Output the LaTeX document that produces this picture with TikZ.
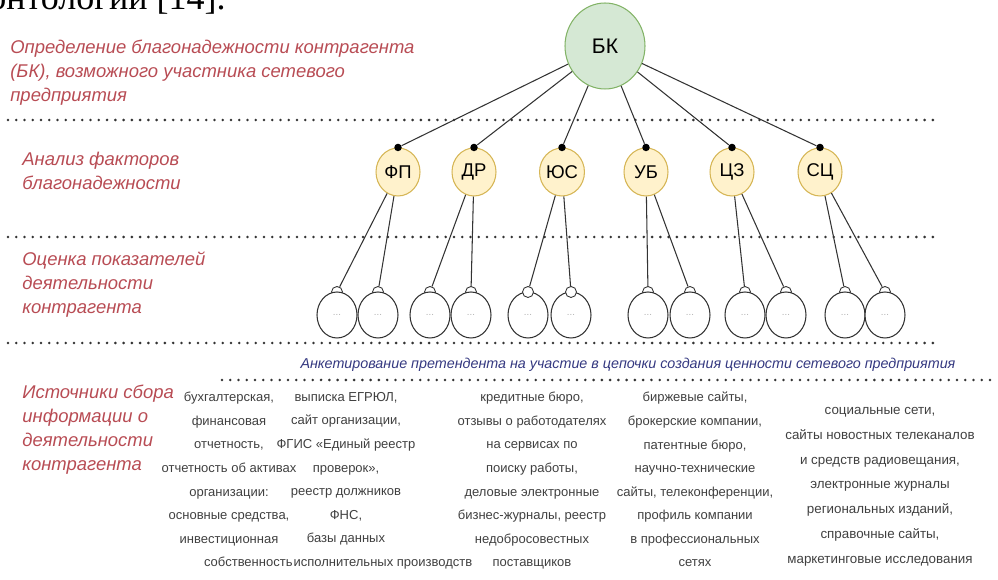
\documentclass[tikz,border=0pt]{standalone}
\usepackage{fontspec}
\setmainfont{Liberation Sans}
\newfontfamily\bookfont{Liberation Serif}
\usetikzlibrary{shapes.geometric}

\definecolor{labelred}{RGB}{184,76,84}
\definecolor{surveyblue}{RGB}{52,56,128}
\definecolor{srctext}{RGB}{64,64,64}
\definecolor{rootfill}{RGB}{213,232,212}
\definecolor{rootline}{RGB}{130,179,102}
\definecolor{factfill}{RGB}{255,242,204}
\definecolor{factline}{RGB}{214,182,86}
\definecolor{wire}{RGB}{51,51,51}

\begin{document}
\begin{tikzpicture}[x=0.02cm,y=0.02cm,
  layername/.style={labelred,font=\fontsize{10.5}{13.6}\selectfont\itshape,align=left,anchor=north west,inner sep=0},
  srccol/.style={srctext,font=\fontsize{7.4}{13.4}\selectfont,align=center,anchor=north,inner sep=0},
  divider/.style={wire,line width=1.6pt,line cap=round,dash pattern=on 0pt off 4.7pt},
  link/.style={wire,line width=0.6pt},
  rootnode/.style={ellipse,draw=rootline,fill=rootfill,line width=0.6pt,minimum width=1.6cm,minimum height=1.72cm,inner sep=0,font=\fontsize{12}{14}\selectfont},
  factor/.style={ellipse,draw=factline,fill=factfill,line width=0.6pt,minimum width=0.88cm,minimum height=0.96cm,inner sep=0,font=\fontsize{10.5}{12}\selectfont},
  indicator/.style={ellipse,draw=wire,fill=white,line width=0.6pt,minimum width=0.8cm,minimum height=0.92cm,inner sep=0,text=gray!60,font=\fontsize{5.5}{6}\selectfont},
  port/.style={circle,draw=wire,fill=white,line width=0.5pt,minimum size=0.22cm,inner sep=0},
  joint/.style={circle,fill=black,minimum size=0.15cm,inner sep=0}]

\useasboundingbox (0,0) rectangle (998,-580);
\clip (0,0) rectangle (998,-580);

% page text line cut by the top edge
\node[anchor=base west,inner sep=0,font=\bookfont\fontsize{20.5}{24}\selectfont] (pagetext) at (-12,-10) {онтологии [14].};

% level captions on the left
\node[layername] (lvlroot) at (10,-40) {Определение благонадежности контрагента\\(БК), возможного участника сетевого\\предприятия};
\node[layername] (lvlfactor) at (22,-152) {Анализ факторов\\благонадежности};
\node[layername] (lvlindic) at (22,-252) {Оценка показателей\\деятельности\\контрагента};
\node[layername] (lvlsource) at (22,-385) {Источники сбора\\информации о\\деятельности\\контрагента};

% dotted dividers between levels
\foreach \y in {-120,-237,-343}
  \draw[divider] (8,\y) -- (940,\y);
\draw[divider] (222,-380) -- (998,-380);

% root
\node[rootnode] (bk) at (605,-46) {БК};

% factors with the joints on top
\foreach \name/\x/\txt in {fp/398/ФП,dr/474/ДР,yus/562/ЮС,ub/646/УБ,cz/732/ЦЗ,sc/820/СЦ}{
  \node[factor] (\name) at (\x,-172) {\txt};
  \node[joint] (\name dot) at (\name.north) {};
  \draw[link] (bk) -- (\name dot);
}

% indicators: ports first, so the circles hide their lower half
\foreach \i/\x in {1/337,2/378,3/430,4/471,7/648,8/690,9/745,10/786,11/845,12/885}
  \node[port] (q\i) at (\x,-292) {};
\foreach \i/\x in {1/337,2/378,3/430,4/471,5/528,6/571,7/648,8/690,9/745,10/786,11/845,12/885}
  \node[indicator] (p\i) at (\x,-315) {...};
\foreach \i/\x in {5/528,6/571}
  \node[port] (q\i) at (\x,-292) {};

\foreach \f/\i in {fp/1,fp/2,dr/3,dr/4,yus/5,yus/6,ub/7,ub/8,cz/9,cz/10,sc/11,sc/12}
  \draw[link] (\f) -- (q\i);

% survey line
\node[surveyblue,inner sep=0,font=\fontsize{8.15}{9}\selectfont\itshape] (survey) at (628,-365)
  {Анкетирование претендента на участие в цепочки создания ценности сетевого предприятия};

% information sources
\node[srccol] (src1) at (229,-392) {бухгалтерская,\\финансовая\\отчетность,\\отчетность об активах\\организации:\\основные средства,\\инвестиционная\\\hspace*{22pt}собственность};
\node[srccol] (src2) at (346,-392) {выписка ЕГРЮЛ,\\сайт организации,\\ФГИС «Единый реестр\\проверок»,\\реестр должников\\ФНС,\\базы данных\\\hspace*{42pt}исполнительных производств};
\node[srccol] (src3) at (532,-392) {кредитные бюро,\\отзывы о работодателях\\на сервисах по\\поиску работы,\\деловые электронные\\бизнес-журналы, реестр\\недобросовестных\\поставщиков};
\node[srccol] (src4) at (695,-392) {биржевые сайты,\\брокерские компании,\\патентные бюро,\\научно-технические\\сайты, телеконференции,\\профиль компании\\в профессиональных\\сетях};
\node[srccol,font=\fontsize{7.6}{14.1}\selectfont] (src5) at (880,-407) {социальные сети,\\сайты новостных телеканалов\\и средств радиовещания,\\электронные журналы\\региональных изданий,\\справочные сайты,\\маркетинговые исследования};
\end{tikzpicture}
\end{document}
